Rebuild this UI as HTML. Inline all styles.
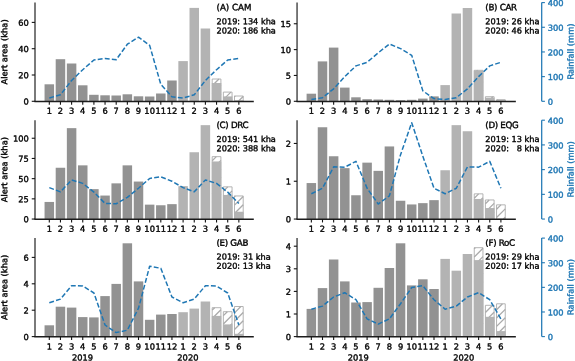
<!DOCTYPE html>
<html><head><meta charset="utf-8"><title>Alert area and rainfall</title>
<style>html,body{margin:0;padding:0;background:#fff}svg{display:block}text{stroke:#000}text[fill]{stroke:#1f77b4;stroke-width:0.4}</style>
</head><body>
<svg width="575" height="361" viewBox="0 0 575 361" font-family="'DejaVu Sans', 'Liberation Sans', sans-serif" font-size="8.3" text-rendering="geometricPrecision" stroke-width="0.36" stroke-linejoin="round">
<rect width="575" height="361" fill="#fff"/>
<g id="pA">
<rect x="44.55" y="84.30" width="9.5" height="17.00" fill="#929292"/>
<rect x="55.70" y="59.20" width="9.5" height="42.10" fill="#929292"/>
<rect x="66.85" y="63.50" width="9.5" height="37.80" fill="#929292"/>
<rect x="78.00" y="85.30" width="9.5" height="16.00" fill="#929292"/>
<rect x="89.15" y="94.80" width="9.5" height="6.50" fill="#929292"/>
<rect x="100.30" y="95.30" width="9.5" height="6.00" fill="#929292"/>
<rect x="111.45" y="95.50" width="9.5" height="5.80" fill="#929292"/>
<rect x="122.60" y="94.30" width="9.5" height="7.00" fill="#929292"/>
<rect x="133.75" y="96.30" width="9.5" height="5.00" fill="#929292"/>
<rect x="144.90" y="96.50" width="9.5" height="4.80" fill="#929292"/>
<rect x="156.05" y="93.50" width="9.5" height="7.80" fill="#929292"/>
<rect x="167.20" y="80.50" width="9.5" height="20.80" fill="#929292"/>
<rect x="178.35" y="61.10" width="9.5" height="40.20" fill="#b3b3b3"/>
<rect x="189.50" y="7.90" width="9.5" height="93.40" fill="#b3b3b3"/>
<rect x="200.65" y="28.50" width="9.5" height="72.80" fill="#b3b3b3"/>
<rect x="212.20" y="79.00" width="8.70" height="22.30" fill="#fff" stroke="#ababab" stroke-width="0.9"/>
<path d="M212.20,85.76 L218.96,79.00 M212.20,94.09 L220.90,85.39 M213.32,101.30 L220.90,93.72" stroke="#ababab" stroke-width="1.3" fill="none"/>
<rect x="211.80" y="83.00" width="9.5" height="18.30" fill="#b3b3b3"/>
<rect x="223.35" y="92.10" width="8.70" height="9.20" fill="#fff" stroke="#ababab" stroke-width="0.9"/>
<path d="M223.35,99.60 L230.85,92.10 M229.99,101.30 L232.05,99.24" stroke="#ababab" stroke-width="1.3" fill="none"/>
<rect x="222.95" y="96.40" width="9.5" height="4.90" fill="#b3b3b3"/>
<rect x="234.50" y="96.00" width="8.70" height="5.30" fill="#fff" stroke="#ababab" stroke-width="0.9"/>
<path d="M234.50,96.79 L235.29,96.00 M238.32,101.30 L243.20,96.42" stroke="#ababab" stroke-width="1.3" fill="none"/>
<rect x="234.10" y="100.30" width="9.5" height="1.00" fill="#b3b3b3"/>
<polyline points="49.30,98.00 60.45,94.80 71.60,80.50 82.75,69.70 93.90,60.00 105.05,58.50 116.20,59.70 127.35,44.20 138.50,37.20 149.65,45.40 160.80,84.30 171.95,96.80 183.10,98.00 194.25,94.80 205.40,80.50 216.55,69.70 227.70,60.00 238.85,58.50" fill="none" stroke="#1f77b4" stroke-width="1.5" stroke-dasharray="4.9 2.2" stroke-linejoin="round"/>
<path d="M35.0,2.6 V101.3" stroke="#2a2a2a" stroke-width="1.25" fill="none"/>
<path d="M34.4,101.45 H253.8" stroke="#1c1c1c" stroke-width="1.5" fill="none"/>
<path d="M31.75,101.30 H35.0" stroke="#151515" stroke-width="1.1"/>
<text transform="rotate(0.05 28.90 104.60)" x="28.90" y="104.60" text-anchor="end">0</text>
<path d="M31.75,75.00 H35.0" stroke="#151515" stroke-width="1.1"/>
<text transform="rotate(0.05 28.90 78.30)" x="28.90" y="78.30" text-anchor="end">20</text>
<path d="M31.75,48.70 H35.0" stroke="#151515" stroke-width="1.1"/>
<text transform="rotate(0.05 28.90 52.00)" x="28.90" y="52.00" text-anchor="end">40</text>
<path d="M31.75,22.40 H35.0" stroke="#151515" stroke-width="1.1"/>
<text transform="rotate(0.05 28.90 25.70)" x="28.90" y="25.70" text-anchor="end">60</text>
<path d="M49.30,101.3 V104.7" stroke="#151515" stroke-width="1.1"/>
<text transform="rotate(0.05 49.30 113.80)" x="49.30" y="113.80" text-anchor="middle">1</text>
<path d="M60.45,101.3 V104.7" stroke="#151515" stroke-width="1.1"/>
<text transform="rotate(0.05 60.45 113.80)" x="60.45" y="113.80" text-anchor="middle">2</text>
<path d="M71.60,101.3 V104.7" stroke="#151515" stroke-width="1.1"/>
<text transform="rotate(0.05 71.60 113.80)" x="71.60" y="113.80" text-anchor="middle">3</text>
<path d="M82.75,101.3 V104.7" stroke="#151515" stroke-width="1.1"/>
<text transform="rotate(0.05 82.75 113.80)" x="82.75" y="113.80" text-anchor="middle">4</text>
<path d="M93.90,101.3 V104.7" stroke="#151515" stroke-width="1.1"/>
<text transform="rotate(0.05 93.90 113.80)" x="93.90" y="113.80" text-anchor="middle">5</text>
<path d="M105.05,101.3 V104.7" stroke="#151515" stroke-width="1.1"/>
<text transform="rotate(0.05 105.05 113.80)" x="105.05" y="113.80" text-anchor="middle">6</text>
<path d="M116.20,101.3 V104.7" stroke="#151515" stroke-width="1.1"/>
<text transform="rotate(0.05 116.20 113.80)" x="116.20" y="113.80" text-anchor="middle">7</text>
<path d="M127.35,101.3 V104.7" stroke="#151515" stroke-width="1.1"/>
<text transform="rotate(0.05 127.35 113.80)" x="127.35" y="113.80" text-anchor="middle">8</text>
<path d="M138.50,101.3 V104.7" stroke="#151515" stroke-width="1.1"/>
<text transform="rotate(0.05 138.50 113.80)" x="138.50" y="113.80" text-anchor="middle">9</text>
<path d="M149.65,101.3 V104.7" stroke="#151515" stroke-width="1.1"/>
<text transform="rotate(0.05 149.65 113.80)" x="149.65" y="113.80" text-anchor="middle">10</text>
<path d="M160.80,101.3 V104.7" stroke="#151515" stroke-width="1.1"/>
<text transform="rotate(0.05 160.80 113.80)" x="160.80" y="113.80" text-anchor="middle">11</text>
<path d="M171.95,101.3 V104.7" stroke="#151515" stroke-width="1.1"/>
<text transform="rotate(0.05 171.95 113.80)" x="171.95" y="113.80" text-anchor="middle">12</text>
<path d="M183.10,101.3 V104.7" stroke="#151515" stroke-width="1.1"/>
<text transform="rotate(0.05 183.10 113.80)" x="183.10" y="113.80" text-anchor="middle">1</text>
<path d="M194.25,101.3 V104.7" stroke="#151515" stroke-width="1.1"/>
<text transform="rotate(0.05 194.25 113.80)" x="194.25" y="113.80" text-anchor="middle">2</text>
<path d="M205.40,101.3 V104.7" stroke="#151515" stroke-width="1.1"/>
<text transform="rotate(0.05 205.40 113.80)" x="205.40" y="113.80" text-anchor="middle">3</text>
<path d="M216.55,101.3 V104.7" stroke="#151515" stroke-width="1.1"/>
<text transform="rotate(0.05 216.55 113.80)" x="216.55" y="113.80" text-anchor="middle">4</text>
<path d="M227.70,101.3 V104.7" stroke="#151515" stroke-width="1.1"/>
<text transform="rotate(0.05 227.70 113.80)" x="227.70" y="113.80" text-anchor="middle">5</text>
<path d="M238.85,101.3 V104.7" stroke="#151515" stroke-width="1.1"/>
<text transform="rotate(0.05 238.85 113.80)" x="238.85" y="113.80" text-anchor="middle">6</text>
<text transform="rotate(0.05 216.50 10.20)" x="216.50" y="10.20" font-size="8.7">(A) CAM</text>
<text transform="rotate(0.05 216.50 24.20)" x="216.50" y="24.20" font-size="8.2">2019: 134 kha</text>
<text transform="rotate(0.05 216.50 33.40)" x="216.50" y="33.40" font-size="8.2">2020: 186 kha</text>
<text transform="translate(7.3,51.95) rotate(-90.05)" text-anchor="middle">Alert area (kha)</text>
</g>
<g id="pB">
<rect x="306.60" y="93.70" width="9.5" height="7.60" fill="#929292"/>
<rect x="317.75" y="61.40" width="9.5" height="39.90" fill="#929292"/>
<rect x="328.90" y="47.60" width="9.5" height="53.70" fill="#929292"/>
<rect x="340.05" y="87.60" width="9.5" height="13.70" fill="#929292"/>
<rect x="351.20" y="97.30" width="9.5" height="4.00" fill="#929292"/>
<rect x="362.35" y="99.20" width="9.5" height="2.10" fill="#929292"/>
<rect x="373.50" y="99.50" width="9.5" height="1.80" fill="#929292"/>
<rect x="384.65" y="99.80" width="9.5" height="1.50" fill="#929292"/>
<rect x="395.80" y="100.10" width="9.5" height="1.20" fill="#929292"/>
<rect x="406.95" y="99.80" width="9.5" height="1.50" fill="#929292"/>
<rect x="418.10" y="98.60" width="9.5" height="2.70" fill="#929292"/>
<rect x="429.25" y="96.40" width="9.5" height="4.90" fill="#929292"/>
<rect x="440.40" y="85.10" width="9.5" height="16.20" fill="#b3b3b3"/>
<rect x="451.55" y="13.50" width="9.5" height="87.80" fill="#b3b3b3"/>
<rect x="462.70" y="8.00" width="9.5" height="93.30" fill="#b3b3b3"/>
<rect x="474.25" y="70.30" width="8.70" height="31.00" fill="#fff" stroke="#ababab" stroke-width="0.9"/>
<path d="M474.25,73.69 L477.64,70.30 M474.25,82.03 L482.95,73.33 M474.25,90.36 L482.95,81.66 M474.25,98.69 L482.95,89.99 M479.98,101.30 L482.95,98.33" stroke="#ababab" stroke-width="1.3" fill="none"/>
<rect x="473.85" y="70.50" width="9.5" height="30.80" fill="#b3b3b3"/>
<rect x="485.40" y="96.70" width="8.70" height="4.60" fill="#fff" stroke="#ababab" stroke-width="0.9"/>
<path d="M488.31,101.30 L492.91,96.70" stroke="#ababab" stroke-width="1.3" fill="none"/>
<rect x="485.00" y="97.70" width="9.5" height="3.60" fill="#b3b3b3"/>
<rect x="496.55" y="99.70" width="8.70" height="1.60" fill="#fff" stroke="#ababab" stroke-width="0.9"/>
<path d="M496.64,101.30 L498.24,99.70 M504.98,101.30 L505.25,101.03" stroke="#ababab" stroke-width="1.3" fill="none"/>
<rect x="496.15" y="100.10" width="9.5" height="1.20" fill="#b3b3b3"/>
<polyline points="311.35,99.50 322.50,97.70 333.65,88.80 344.80,76.60 355.95,65.90 367.10,62.30 378.25,52.80 389.40,44.00 400.55,48.60 411.70,55.30 422.85,90.90 434.00,98.60 445.15,99.50 456.30,97.70 467.45,88.80 478.60,76.60 489.75,65.90 500.90,62.30" fill="none" stroke="#1f77b4" stroke-width="1.5" stroke-dasharray="4.9 2.2" stroke-linejoin="round"/>
<path d="M297.05,2.6 V101.3" stroke="#2a2a2a" stroke-width="1.25" fill="none"/>
<path d="M296.45,101.45 H515.85" stroke="#1c1c1c" stroke-width="1.5" fill="none"/>
<path d="M293.8,101.30 H297.05" stroke="#151515" stroke-width="1.1"/>
<text transform="rotate(0.05 290.95 104.60)" x="290.95" y="104.60" text-anchor="end">0</text>
<path d="M293.8,75.45 H297.05" stroke="#151515" stroke-width="1.1"/>
<text transform="rotate(0.05 290.95 78.75)" x="290.95" y="78.75" text-anchor="end">5</text>
<path d="M293.8,49.60 H297.05" stroke="#151515" stroke-width="1.1"/>
<text transform="rotate(0.05 290.95 52.90)" x="290.95" y="52.90" text-anchor="end">10</text>
<path d="M293.8,23.75 H297.05" stroke="#151515" stroke-width="1.1"/>
<text transform="rotate(0.05 290.95 27.05)" x="290.95" y="27.05" text-anchor="end">15</text>
<path d="M311.35,101.3 V104.7" stroke="#151515" stroke-width="1.1"/>
<text transform="rotate(0.05 311.35 113.80)" x="311.35" y="113.80" text-anchor="middle">1</text>
<path d="M322.50,101.3 V104.7" stroke="#151515" stroke-width="1.1"/>
<text transform="rotate(0.05 322.50 113.80)" x="322.50" y="113.80" text-anchor="middle">2</text>
<path d="M333.65,101.3 V104.7" stroke="#151515" stroke-width="1.1"/>
<text transform="rotate(0.05 333.65 113.80)" x="333.65" y="113.80" text-anchor="middle">3</text>
<path d="M344.80,101.3 V104.7" stroke="#151515" stroke-width="1.1"/>
<text transform="rotate(0.05 344.80 113.80)" x="344.80" y="113.80" text-anchor="middle">4</text>
<path d="M355.95,101.3 V104.7" stroke="#151515" stroke-width="1.1"/>
<text transform="rotate(0.05 355.95 113.80)" x="355.95" y="113.80" text-anchor="middle">5</text>
<path d="M367.10,101.3 V104.7" stroke="#151515" stroke-width="1.1"/>
<text transform="rotate(0.05 367.10 113.80)" x="367.10" y="113.80" text-anchor="middle">6</text>
<path d="M378.25,101.3 V104.7" stroke="#151515" stroke-width="1.1"/>
<text transform="rotate(0.05 378.25 113.80)" x="378.25" y="113.80" text-anchor="middle">7</text>
<path d="M389.40,101.3 V104.7" stroke="#151515" stroke-width="1.1"/>
<text transform="rotate(0.05 389.40 113.80)" x="389.40" y="113.80" text-anchor="middle">8</text>
<path d="M400.55,101.3 V104.7" stroke="#151515" stroke-width="1.1"/>
<text transform="rotate(0.05 400.55 113.80)" x="400.55" y="113.80" text-anchor="middle">9</text>
<path d="M411.70,101.3 V104.7" stroke="#151515" stroke-width="1.1"/>
<text transform="rotate(0.05 411.70 113.80)" x="411.70" y="113.80" text-anchor="middle">10</text>
<path d="M422.85,101.3 V104.7" stroke="#151515" stroke-width="1.1"/>
<text transform="rotate(0.05 422.85 113.80)" x="422.85" y="113.80" text-anchor="middle">11</text>
<path d="M434.00,101.3 V104.7" stroke="#151515" stroke-width="1.1"/>
<text transform="rotate(0.05 434.00 113.80)" x="434.00" y="113.80" text-anchor="middle">12</text>
<path d="M445.15,101.3 V104.7" stroke="#151515" stroke-width="1.1"/>
<text transform="rotate(0.05 445.15 113.80)" x="445.15" y="113.80" text-anchor="middle">1</text>
<path d="M456.30,101.3 V104.7" stroke="#151515" stroke-width="1.1"/>
<text transform="rotate(0.05 456.30 113.80)" x="456.30" y="113.80" text-anchor="middle">2</text>
<path d="M467.45,101.3 V104.7" stroke="#151515" stroke-width="1.1"/>
<text transform="rotate(0.05 467.45 113.80)" x="467.45" y="113.80" text-anchor="middle">3</text>
<path d="M478.60,101.3 V104.7" stroke="#151515" stroke-width="1.1"/>
<text transform="rotate(0.05 478.60 113.80)" x="478.60" y="113.80" text-anchor="middle">4</text>
<path d="M489.75,101.3 V104.7" stroke="#151515" stroke-width="1.1"/>
<text transform="rotate(0.05 489.75 113.80)" x="489.75" y="113.80" text-anchor="middle">5</text>
<path d="M500.90,101.3 V104.7" stroke="#151515" stroke-width="1.1"/>
<text transform="rotate(0.05 500.90 113.80)" x="500.90" y="113.80" text-anchor="middle">6</text>
<text transform="rotate(0.05 485.35 10.20)" x="485.35" y="10.20" font-size="8.7" letter-spacing="-0.3">(B) CAR</text>
<text transform="rotate(0.05 485.35 24.20)" x="485.35" y="24.20" font-size="8.2">2019: 26 kha</text>
<text transform="rotate(0.05 485.35 33.40)" x="485.35" y="33.40" font-size="8.2">2020: 46 kha</text>
<path d="M541.7,2.6 V101.3" stroke="#1f77b4" stroke-width="1.25" fill="none"/>
<path d="M541.7,101.30 H544.9000000000001" stroke="#1f77b4" stroke-width="1.1"/>
<text transform="rotate(0.05 547.70 104.80)" x="547.70" y="104.80" fill="#1f77b4">0</text>
<path d="M541.7,76.62 H544.9000000000001" stroke="#1f77b4" stroke-width="1.1"/>
<text transform="rotate(0.05 547.70 80.12)" x="547.70" y="80.12" fill="#1f77b4">100</text>
<path d="M541.7,51.95 H544.9000000000001" stroke="#1f77b4" stroke-width="1.1"/>
<text transform="rotate(0.05 547.70 55.45)" x="547.70" y="55.45" fill="#1f77b4">200</text>
<path d="M541.7,27.27 H544.9000000000001" stroke="#1f77b4" stroke-width="1.1"/>
<text transform="rotate(0.05 547.70 30.77)" x="547.70" y="30.77" fill="#1f77b4">300</text>
<path d="M541.7,2.60 H544.9000000000001" stroke="#1f77b4" stroke-width="1.1"/>
<text transform="rotate(0.05 547.70 6.10)" x="547.70" y="6.10" fill="#1f77b4">400</text>
<text transform="translate(573.6,51.55) rotate(-90.05)" text-anchor="middle" fill="#1f77b4">Rainfall (mm)</text>
</g>
<g id="pC">
<rect x="44.55" y="201.95" width="9.5" height="17.10" fill="#929292"/>
<rect x="55.70" y="167.75" width="9.5" height="51.30" fill="#929292"/>
<rect x="66.85" y="128.15" width="9.5" height="90.90" fill="#929292"/>
<rect x="78.00" y="165.35" width="9.5" height="53.70" fill="#929292"/>
<rect x="89.15" y="189.15" width="9.5" height="29.90" fill="#929292"/>
<rect x="100.30" y="195.55" width="9.5" height="23.50" fill="#929292"/>
<rect x="111.45" y="183.35" width="9.5" height="35.70" fill="#929292"/>
<rect x="122.60" y="165.35" width="9.5" height="53.70" fill="#929292"/>
<rect x="133.75" y="181.55" width="9.5" height="37.50" fill="#929292"/>
<rect x="144.90" y="204.65" width="9.5" height="14.40" fill="#929292"/>
<rect x="156.05" y="205.25" width="9.5" height="13.80" fill="#929292"/>
<rect x="167.20" y="204.15" width="9.5" height="14.90" fill="#929292"/>
<rect x="178.35" y="186.15" width="9.5" height="32.90" fill="#b3b3b3"/>
<rect x="189.50" y="152.25" width="9.5" height="66.80" fill="#b3b3b3"/>
<rect x="200.65" y="125.15" width="9.5" height="93.90" fill="#b3b3b3"/>
<rect x="212.20" y="156.65" width="8.70" height="62.40" fill="#fff" stroke="#ababab" stroke-width="0.9"/>
<path d="M212.20,160.75 L216.30,156.65 M212.20,169.09 L220.90,160.39 M212.20,177.42 L220.90,168.72 M212.20,185.75 L220.90,177.05 M212.20,194.08 L220.90,185.38 M212.20,202.42 L220.90,193.72 M212.20,210.75 L220.90,202.05 M212.23,219.05 L220.90,210.38 M220.57,219.05 L220.90,218.72" stroke="#ababab" stroke-width="1.3" fill="none"/>
<rect x="211.80" y="161.45" width="9.5" height="57.60" fill="#b3b3b3"/>
<rect x="223.35" y="186.85" width="8.70" height="32.20" fill="#fff" stroke="#ababab" stroke-width="0.9"/>
<path d="M223.35,191.27 L227.77,186.85 M223.35,199.60 L232.05,190.90 M223.35,207.93 L232.05,199.23 M223.35,216.27 L232.05,207.57 M228.90,219.05 L232.05,215.90" stroke="#ababab" stroke-width="1.3" fill="none"/>
<rect x="222.95" y="194.95" width="9.5" height="24.10" fill="#b3b3b3"/>
<rect x="234.50" y="195.95" width="8.70" height="23.10" fill="#fff" stroke="#ababab" stroke-width="0.9"/>
<path d="M234.50,196.78 L235.33,195.95 M234.50,205.12 L243.20,196.42 M234.50,213.45 L243.20,204.75 M237.23,219.05 L243.20,213.08" stroke="#ababab" stroke-width="1.3" fill="none"/>
<rect x="234.10" y="211.75" width="9.5" height="7.30" fill="#b3b3b3"/>
<polyline points="49.30,187.65 60.45,191.85 71.60,179.95 82.75,183.35 93.90,192.15 105.05,203.45 116.20,203.75 127.35,197.35 138.50,188.25 149.65,178.45 160.80,176.85 171.95,181.25 183.10,187.65 194.25,191.85 205.40,179.95 216.55,183.35 227.70,192.15 238.85,203.45" fill="none" stroke="#1f77b4" stroke-width="1.5" stroke-dasharray="4.9 2.2" stroke-linejoin="round"/>
<path d="M35.0,120.2 V219.05" stroke="#2a2a2a" stroke-width="1.25" fill="none"/>
<path d="M34.4,219.20000000000002 H253.8" stroke="#1c1c1c" stroke-width="1.5" fill="none"/>
<path d="M31.75,219.05 H35.0" stroke="#151515" stroke-width="1.1"/>
<text transform="rotate(0.05 28.90 222.35)" x="28.90" y="222.35" text-anchor="end">0</text>
<path d="M31.75,198.85 H35.0" stroke="#151515" stroke-width="1.1"/>
<text transform="rotate(0.05 28.90 202.15)" x="28.90" y="202.15" text-anchor="end">25</text>
<path d="M31.75,178.65 H35.0" stroke="#151515" stroke-width="1.1"/>
<text transform="rotate(0.05 28.90 181.95)" x="28.90" y="181.95" text-anchor="end">50</text>
<path d="M31.75,158.45 H35.0" stroke="#151515" stroke-width="1.1"/>
<text transform="rotate(0.05 28.90 161.75)" x="28.90" y="161.75" text-anchor="end">75</text>
<path d="M31.75,138.25 H35.0" stroke="#151515" stroke-width="1.1"/>
<text transform="rotate(0.05 28.90 141.55)" x="28.90" y="141.55" text-anchor="end">100</text>
<path d="M49.30,219.05 V222.45000000000002" stroke="#151515" stroke-width="1.1"/>
<text transform="rotate(0.05 49.30 231.65)" x="49.30" y="231.65" text-anchor="middle">1</text>
<path d="M60.45,219.05 V222.45000000000002" stroke="#151515" stroke-width="1.1"/>
<text transform="rotate(0.05 60.45 231.65)" x="60.45" y="231.65" text-anchor="middle">2</text>
<path d="M71.60,219.05 V222.45000000000002" stroke="#151515" stroke-width="1.1"/>
<text transform="rotate(0.05 71.60 231.65)" x="71.60" y="231.65" text-anchor="middle">3</text>
<path d="M82.75,219.05 V222.45000000000002" stroke="#151515" stroke-width="1.1"/>
<text transform="rotate(0.05 82.75 231.65)" x="82.75" y="231.65" text-anchor="middle">4</text>
<path d="M93.90,219.05 V222.45000000000002" stroke="#151515" stroke-width="1.1"/>
<text transform="rotate(0.05 93.90 231.65)" x="93.90" y="231.65" text-anchor="middle">5</text>
<path d="M105.05,219.05 V222.45000000000002" stroke="#151515" stroke-width="1.1"/>
<text transform="rotate(0.05 105.05 231.65)" x="105.05" y="231.65" text-anchor="middle">6</text>
<path d="M116.20,219.05 V222.45000000000002" stroke="#151515" stroke-width="1.1"/>
<text transform="rotate(0.05 116.20 231.65)" x="116.20" y="231.65" text-anchor="middle">7</text>
<path d="M127.35,219.05 V222.45000000000002" stroke="#151515" stroke-width="1.1"/>
<text transform="rotate(0.05 127.35 231.65)" x="127.35" y="231.65" text-anchor="middle">8</text>
<path d="M138.50,219.05 V222.45000000000002" stroke="#151515" stroke-width="1.1"/>
<text transform="rotate(0.05 138.50 231.65)" x="138.50" y="231.65" text-anchor="middle">9</text>
<path d="M149.65,219.05 V222.45000000000002" stroke="#151515" stroke-width="1.1"/>
<text transform="rotate(0.05 149.65 231.65)" x="149.65" y="231.65" text-anchor="middle">10</text>
<path d="M160.80,219.05 V222.45000000000002" stroke="#151515" stroke-width="1.1"/>
<text transform="rotate(0.05 160.80 231.65)" x="160.80" y="231.65" text-anchor="middle">11</text>
<path d="M171.95,219.05 V222.45000000000002" stroke="#151515" stroke-width="1.1"/>
<text transform="rotate(0.05 171.95 231.65)" x="171.95" y="231.65" text-anchor="middle">12</text>
<path d="M183.10,219.05 V222.45000000000002" stroke="#151515" stroke-width="1.1"/>
<text transform="rotate(0.05 183.10 231.65)" x="183.10" y="231.65" text-anchor="middle">1</text>
<path d="M194.25,219.05 V222.45000000000002" stroke="#151515" stroke-width="1.1"/>
<text transform="rotate(0.05 194.25 231.65)" x="194.25" y="231.65" text-anchor="middle">2</text>
<path d="M205.40,219.05 V222.45000000000002" stroke="#151515" stroke-width="1.1"/>
<text transform="rotate(0.05 205.40 231.65)" x="205.40" y="231.65" text-anchor="middle">3</text>
<path d="M216.55,219.05 V222.45000000000002" stroke="#151515" stroke-width="1.1"/>
<text transform="rotate(0.05 216.55 231.65)" x="216.55" y="231.65" text-anchor="middle">4</text>
<path d="M227.70,219.05 V222.45000000000002" stroke="#151515" stroke-width="1.1"/>
<text transform="rotate(0.05 227.70 231.65)" x="227.70" y="231.65" text-anchor="middle">5</text>
<path d="M238.85,219.05 V222.45000000000002" stroke="#151515" stroke-width="1.1"/>
<text transform="rotate(0.05 238.85 231.65)" x="238.85" y="231.65" text-anchor="middle">6</text>
<text transform="rotate(0.05 216.50 128.10)" x="216.50" y="128.10" font-size="8.7" letter-spacing="-0.3">(C) DRC</text>
<text transform="rotate(0.05 216.50 142.00)" x="216.50" y="142.00" font-size="8.2">2019: 541 kha</text>
<text transform="rotate(0.05 216.50 151.20)" x="216.50" y="151.20" font-size="8.2">2020: 388 kha</text>
<text transform="translate(7.3,169.62) rotate(-90.05)" text-anchor="middle">Alert area (kha)</text>
</g>
<g id="pD">
<rect x="306.60" y="183.05" width="9.5" height="36.00" fill="#929292"/>
<rect x="317.75" y="127.25" width="9.5" height="91.80" fill="#929292"/>
<rect x="328.90" y="156.25" width="9.5" height="62.80" fill="#929292"/>
<rect x="340.05" y="168.15" width="9.5" height="50.90" fill="#929292"/>
<rect x="351.20" y="195.25" width="9.5" height="23.80" fill="#929292"/>
<rect x="362.35" y="162.65" width="9.5" height="56.40" fill="#929292"/>
<rect x="373.50" y="170.85" width="9.5" height="48.20" fill="#929292"/>
<rect x="384.65" y="146.45" width="9.5" height="72.60" fill="#929292"/>
<rect x="395.80" y="200.75" width="9.5" height="18.30" fill="#929292"/>
<rect x="406.95" y="204.45" width="9.5" height="14.60" fill="#929292"/>
<rect x="418.10" y="203.15" width="9.5" height="15.90" fill="#929292"/>
<rect x="429.25" y="200.15" width="9.5" height="18.90" fill="#929292"/>
<rect x="440.40" y="170.25" width="9.5" height="48.80" fill="#b3b3b3"/>
<rect x="451.55" y="125.15" width="9.5" height="93.90" fill="#b3b3b3"/>
<rect x="462.70" y="131.25" width="9.5" height="87.80" fill="#b3b3b3"/>
<rect x="474.25" y="193.85" width="8.70" height="25.20" fill="#fff" stroke="#ababab" stroke-width="0.9"/>
<path d="M474.25,198.19 L478.59,193.85 M474.25,206.52 L482.95,197.82 M474.25,214.86 L482.95,206.16 M478.39,219.05 L482.95,214.49" stroke="#ababab" stroke-width="1.3" fill="none"/>
<rect x="473.85" y="198.95" width="9.5" height="20.10" fill="#b3b3b3"/>
<rect x="485.40" y="199.95" width="8.70" height="19.10" fill="#fff" stroke="#ababab" stroke-width="0.9"/>
<path d="M485.40,203.71 L489.16,199.95 M485.40,212.04 L494.10,203.34 M486.72,219.05 L494.10,211.67" stroke="#ababab" stroke-width="1.3" fill="none"/>
<rect x="485.00" y="208.05" width="9.5" height="11.00" fill="#b3b3b3"/>
<rect x="496.55" y="204.85" width="8.70" height="14.20" fill="#fff" stroke="#ababab" stroke-width="0.9"/>
<path d="M496.55,209.22 L500.92,204.85 M496.55,217.56 L505.25,208.85 M503.39,219.05 L505.25,217.19" stroke="#ababab" stroke-width="1.3" fill="none"/>
<polyline points="311.35,193.75 322.50,188.25 333.65,166.85 344.80,167.15 355.95,161.35 367.10,188.25 378.25,204.05 389.40,195.85 400.55,154.65 411.70,122.65 422.85,156.25 434.00,188.25 445.15,193.75 456.30,188.25 467.45,166.85 478.60,167.15 489.75,161.35 500.90,188.25" fill="none" stroke="#1f77b4" stroke-width="1.5" stroke-dasharray="4.9 2.2" stroke-linejoin="round"/>
<path d="M297.05,120.2 V219.05" stroke="#2a2a2a" stroke-width="1.25" fill="none"/>
<path d="M296.45,219.20000000000002 H515.85" stroke="#1c1c1c" stroke-width="1.5" fill="none"/>
<path d="M293.8,219.05 H297.05" stroke="#151515" stroke-width="1.1"/>
<text transform="rotate(0.05 290.95 222.35)" x="290.95" y="222.35" text-anchor="end">0</text>
<path d="M293.8,181.25 H297.05" stroke="#151515" stroke-width="1.1"/>
<text transform="rotate(0.05 290.95 184.55)" x="290.95" y="184.55" text-anchor="end">1</text>
<path d="M293.8,143.45 H297.05" stroke="#151515" stroke-width="1.1"/>
<text transform="rotate(0.05 290.95 146.75)" x="290.95" y="146.75" text-anchor="end">2</text>
<path d="M311.35,219.05 V222.45000000000002" stroke="#151515" stroke-width="1.1"/>
<text transform="rotate(0.05 311.35 231.65)" x="311.35" y="231.65" text-anchor="middle">1</text>
<path d="M322.50,219.05 V222.45000000000002" stroke="#151515" stroke-width="1.1"/>
<text transform="rotate(0.05 322.50 231.65)" x="322.50" y="231.65" text-anchor="middle">2</text>
<path d="M333.65,219.05 V222.45000000000002" stroke="#151515" stroke-width="1.1"/>
<text transform="rotate(0.05 333.65 231.65)" x="333.65" y="231.65" text-anchor="middle">3</text>
<path d="M344.80,219.05 V222.45000000000002" stroke="#151515" stroke-width="1.1"/>
<text transform="rotate(0.05 344.80 231.65)" x="344.80" y="231.65" text-anchor="middle">4</text>
<path d="M355.95,219.05 V222.45000000000002" stroke="#151515" stroke-width="1.1"/>
<text transform="rotate(0.05 355.95 231.65)" x="355.95" y="231.65" text-anchor="middle">5</text>
<path d="M367.10,219.05 V222.45000000000002" stroke="#151515" stroke-width="1.1"/>
<text transform="rotate(0.05 367.10 231.65)" x="367.10" y="231.65" text-anchor="middle">6</text>
<path d="M378.25,219.05 V222.45000000000002" stroke="#151515" stroke-width="1.1"/>
<text transform="rotate(0.05 378.25 231.65)" x="378.25" y="231.65" text-anchor="middle">7</text>
<path d="M389.40,219.05 V222.45000000000002" stroke="#151515" stroke-width="1.1"/>
<text transform="rotate(0.05 389.40 231.65)" x="389.40" y="231.65" text-anchor="middle">8</text>
<path d="M400.55,219.05 V222.45000000000002" stroke="#151515" stroke-width="1.1"/>
<text transform="rotate(0.05 400.55 231.65)" x="400.55" y="231.65" text-anchor="middle">9</text>
<path d="M411.70,219.05 V222.45000000000002" stroke="#151515" stroke-width="1.1"/>
<text transform="rotate(0.05 411.70 231.65)" x="411.70" y="231.65" text-anchor="middle">10</text>
<path d="M422.85,219.05 V222.45000000000002" stroke="#151515" stroke-width="1.1"/>
<text transform="rotate(0.05 422.85 231.65)" x="422.85" y="231.65" text-anchor="middle">11</text>
<path d="M434.00,219.05 V222.45000000000002" stroke="#151515" stroke-width="1.1"/>
<text transform="rotate(0.05 434.00 231.65)" x="434.00" y="231.65" text-anchor="middle">12</text>
<path d="M445.15,219.05 V222.45000000000002" stroke="#151515" stroke-width="1.1"/>
<text transform="rotate(0.05 445.15 231.65)" x="445.15" y="231.65" text-anchor="middle">1</text>
<path d="M456.30,219.05 V222.45000000000002" stroke="#151515" stroke-width="1.1"/>
<text transform="rotate(0.05 456.30 231.65)" x="456.30" y="231.65" text-anchor="middle">2</text>
<path d="M467.45,219.05 V222.45000000000002" stroke="#151515" stroke-width="1.1"/>
<text transform="rotate(0.05 467.45 231.65)" x="467.45" y="231.65" text-anchor="middle">3</text>
<path d="M478.60,219.05 V222.45000000000002" stroke="#151515" stroke-width="1.1"/>
<text transform="rotate(0.05 478.60 231.65)" x="478.60" y="231.65" text-anchor="middle">4</text>
<path d="M489.75,219.05 V222.45000000000002" stroke="#151515" stroke-width="1.1"/>
<text transform="rotate(0.05 489.75 231.65)" x="489.75" y="231.65" text-anchor="middle">5</text>
<path d="M500.90,219.05 V222.45000000000002" stroke="#151515" stroke-width="1.1"/>
<text transform="rotate(0.05 500.90 231.65)" x="500.90" y="231.65" text-anchor="middle">6</text>
<text transform="rotate(0.05 485.35 128.10)" x="485.35" y="128.10" font-size="8.7" letter-spacing="-0.3">(D) EQG</text>
<text transform="rotate(0.05 485.35 142.00)" x="485.35" y="142.00" font-size="8.2">2019: 13 kha</text>
<text transform="rotate(0.05 485.35 151.20)" x="485.35" y="151.20" font-size="8.2">2020:   8 kha</text>
<path d="M541.7,120.2 V219.05" stroke="#1f77b4" stroke-width="1.25" fill="none"/>
<path d="M541.7,219.05 H544.9000000000001" stroke="#1f77b4" stroke-width="1.1"/>
<text transform="rotate(0.05 547.70 222.55)" x="547.70" y="222.55" fill="#1f77b4">0</text>
<path d="M541.7,194.34 H544.9000000000001" stroke="#1f77b4" stroke-width="1.1"/>
<text transform="rotate(0.05 547.70 197.84)" x="547.70" y="197.84" fill="#1f77b4">100</text>
<path d="M541.7,169.62 H544.9000000000001" stroke="#1f77b4" stroke-width="1.1"/>
<text transform="rotate(0.05 547.70 173.12)" x="547.70" y="173.12" fill="#1f77b4">200</text>
<path d="M541.7,144.91 H544.9000000000001" stroke="#1f77b4" stroke-width="1.1"/>
<text transform="rotate(0.05 547.70 148.41)" x="547.70" y="148.41" fill="#1f77b4">300</text>
<path d="M541.7,120.20 H544.9000000000001" stroke="#1f77b4" stroke-width="1.1"/>
<text transform="rotate(0.05 547.70 123.70)" x="547.70" y="123.70" fill="#1f77b4">400</text>
<text transform="translate(573.6,169.22) rotate(-90.05)" text-anchor="middle" fill="#1f77b4">Rainfall (mm)</text>
</g>
<g id="pE">
<rect x="44.55" y="325.30" width="9.5" height="11.30" fill="#929292"/>
<rect x="55.70" y="306.70" width="9.5" height="29.90" fill="#929292"/>
<rect x="66.85" y="307.60" width="9.5" height="29.00" fill="#929292"/>
<rect x="78.00" y="317.10" width="9.5" height="19.50" fill="#929292"/>
<rect x="89.15" y="317.40" width="9.5" height="19.20" fill="#929292"/>
<rect x="100.30" y="296.10" width="9.5" height="40.50" fill="#929292"/>
<rect x="111.45" y="283.90" width="9.5" height="52.70" fill="#929292"/>
<rect x="122.60" y="243.30" width="9.5" height="93.30" fill="#929292"/>
<rect x="133.75" y="281.40" width="9.5" height="55.20" fill="#929292"/>
<rect x="144.90" y="319.80" width="9.5" height="16.80" fill="#929292"/>
<rect x="156.05" y="314.60" width="9.5" height="22.00" fill="#929292"/>
<rect x="167.20" y="314.00" width="9.5" height="22.60" fill="#929292"/>
<rect x="178.35" y="312.20" width="9.5" height="24.40" fill="#b3b3b3"/>
<rect x="189.50" y="308.60" width="9.5" height="28.00" fill="#b3b3b3"/>
<rect x="200.65" y="301.50" width="9.5" height="35.10" fill="#b3b3b3"/>
<rect x="212.20" y="307.70" width="8.70" height="28.90" fill="#fff" stroke="#ababab" stroke-width="0.9"/>
<path d="M212.20,310.15 L214.65,307.70 M212.20,318.48 L220.90,309.78 M212.20,326.81 L220.90,318.11 M212.20,335.14 L220.90,326.45 M219.08,336.60 L220.90,334.78" stroke="#ababab" stroke-width="1.3" fill="none"/>
<rect x="211.80" y="315.90" width="9.5" height="20.70" fill="#b3b3b3"/>
<rect x="223.35" y="311.70" width="8.70" height="24.90" fill="#fff" stroke="#ababab" stroke-width="0.9"/>
<path d="M223.35,315.66 L227.31,311.70 M223.35,324.00 L232.05,315.30 M223.35,332.33 L232.05,323.63 M227.41,336.60 L232.05,331.96" stroke="#ababab" stroke-width="1.3" fill="none"/>
<rect x="222.95" y="324.40" width="9.5" height="12.20" fill="#b3b3b3"/>
<rect x="234.50" y="306.50" width="8.70" height="30.10" fill="#fff" stroke="#ababab" stroke-width="0.9"/>
<path d="M234.50,312.85 L240.85,306.50 M234.50,321.18 L243.20,312.48 M234.50,329.51 L243.20,320.81 M235.74,336.60 L243.20,329.14" stroke="#ababab" stroke-width="1.3" fill="none"/>
<rect x="234.10" y="333.80" width="9.5" height="2.80" fill="#b3b3b3"/>
<polyline points="49.30,302.80 60.45,299.10 71.60,285.70 82.75,286.00 93.90,293.00 105.05,325.00 116.20,332.60 127.35,330.20 138.50,308.20 149.65,266.20 160.80,268.30 171.95,297.00 183.10,302.80 194.25,299.10 205.40,285.70 216.55,286.00 227.70,293.00 238.85,325.00" fill="none" stroke="#1f77b4" stroke-width="1.5" stroke-dasharray="4.9 2.2" stroke-linejoin="round"/>
<path d="M35.0,238.1 V336.6" stroke="#2a2a2a" stroke-width="1.25" fill="none"/>
<path d="M34.4,336.75 H253.8" stroke="#1c1c1c" stroke-width="1.5" fill="none"/>
<path d="M31.75,336.60 H35.0" stroke="#151515" stroke-width="1.1"/>
<text transform="rotate(0.05 28.90 339.90)" x="28.90" y="339.90" text-anchor="end">0</text>
<path d="M31.75,310.20 H35.0" stroke="#151515" stroke-width="1.1"/>
<text transform="rotate(0.05 28.90 313.50)" x="28.90" y="313.50" text-anchor="end">2</text>
<path d="M31.75,283.80 H35.0" stroke="#151515" stroke-width="1.1"/>
<text transform="rotate(0.05 28.90 287.10)" x="28.90" y="287.10" text-anchor="end">4</text>
<path d="M31.75,257.40 H35.0" stroke="#151515" stroke-width="1.1"/>
<text transform="rotate(0.05 28.90 260.70)" x="28.90" y="260.70" text-anchor="end">6</text>
<path d="M49.30,336.6 V340.0" stroke="#151515" stroke-width="1.1"/>
<text transform="rotate(0.05 49.30 349.45)" x="49.30" y="349.45" text-anchor="middle">1</text>
<path d="M60.45,336.6 V340.0" stroke="#151515" stroke-width="1.1"/>
<text transform="rotate(0.05 60.45 349.45)" x="60.45" y="349.45" text-anchor="middle">2</text>
<path d="M71.60,336.6 V340.0" stroke="#151515" stroke-width="1.1"/>
<text transform="rotate(0.05 71.60 349.45)" x="71.60" y="349.45" text-anchor="middle">3</text>
<path d="M82.75,336.6 V340.0" stroke="#151515" stroke-width="1.1"/>
<text transform="rotate(0.05 82.75 349.45)" x="82.75" y="349.45" text-anchor="middle">4</text>
<path d="M93.90,336.6 V340.0" stroke="#151515" stroke-width="1.1"/>
<text transform="rotate(0.05 93.90 349.45)" x="93.90" y="349.45" text-anchor="middle">5</text>
<path d="M105.05,336.6 V340.0" stroke="#151515" stroke-width="1.1"/>
<text transform="rotate(0.05 105.05 349.45)" x="105.05" y="349.45" text-anchor="middle">6</text>
<path d="M116.20,336.6 V340.0" stroke="#151515" stroke-width="1.1"/>
<text transform="rotate(0.05 116.20 349.45)" x="116.20" y="349.45" text-anchor="middle">7</text>
<path d="M127.35,336.6 V340.0" stroke="#151515" stroke-width="1.1"/>
<text transform="rotate(0.05 127.35 349.45)" x="127.35" y="349.45" text-anchor="middle">8</text>
<path d="M138.50,336.6 V340.0" stroke="#151515" stroke-width="1.1"/>
<text transform="rotate(0.05 138.50 349.45)" x="138.50" y="349.45" text-anchor="middle">9</text>
<path d="M149.65,336.6 V340.0" stroke="#151515" stroke-width="1.1"/>
<text transform="rotate(0.05 149.65 349.45)" x="149.65" y="349.45" text-anchor="middle">10</text>
<path d="M160.80,336.6 V340.0" stroke="#151515" stroke-width="1.1"/>
<text transform="rotate(0.05 160.80 349.45)" x="160.80" y="349.45" text-anchor="middle">11</text>
<path d="M171.95,336.6 V340.0" stroke="#151515" stroke-width="1.1"/>
<text transform="rotate(0.05 171.95 349.45)" x="171.95" y="349.45" text-anchor="middle">12</text>
<path d="M183.10,336.6 V340.0" stroke="#151515" stroke-width="1.1"/>
<text transform="rotate(0.05 183.10 349.45)" x="183.10" y="349.45" text-anchor="middle">1</text>
<path d="M194.25,336.6 V340.0" stroke="#151515" stroke-width="1.1"/>
<text transform="rotate(0.05 194.25 349.45)" x="194.25" y="349.45" text-anchor="middle">2</text>
<path d="M205.40,336.6 V340.0" stroke="#151515" stroke-width="1.1"/>
<text transform="rotate(0.05 205.40 349.45)" x="205.40" y="349.45" text-anchor="middle">3</text>
<path d="M216.55,336.6 V340.0" stroke="#151515" stroke-width="1.1"/>
<text transform="rotate(0.05 216.55 349.45)" x="216.55" y="349.45" text-anchor="middle">4</text>
<path d="M227.70,336.6 V340.0" stroke="#151515" stroke-width="1.1"/>
<text transform="rotate(0.05 227.70 349.45)" x="227.70" y="349.45" text-anchor="middle">5</text>
<path d="M238.85,336.6 V340.0" stroke="#151515" stroke-width="1.1"/>
<text transform="rotate(0.05 238.85 349.45)" x="238.85" y="349.45" text-anchor="middle">6</text>
<text transform="rotate(0.05 216.50 245.70)" x="216.50" y="245.70" font-size="8.7" letter-spacing="-0.3">(E) GAB</text>
<text transform="rotate(0.05 216.50 259.60)" x="216.50" y="259.60" font-size="8.2">2019: 31 kha</text>
<text transform="rotate(0.05 216.50 268.80)" x="216.50" y="268.80" font-size="8.2">2020: 13 kha</text>
<text transform="translate(7.3,287.35) rotate(-90.05)" text-anchor="middle">Alert area (kha)</text>
<text transform="rotate(0.05 82.50 360.50)" x="82.50" y="360.50" text-anchor="middle">2019</text>
<text transform="rotate(0.05 187.90 360.50)" x="187.90" y="360.50" text-anchor="middle">2020</text>
</g>
<g id="pF">
<rect x="306.60" y="308.90" width="9.5" height="27.70" fill="#929292"/>
<rect x="317.75" y="288.10" width="9.5" height="48.50" fill="#929292"/>
<rect x="328.90" y="259.50" width="9.5" height="77.10" fill="#929292"/>
<rect x="340.05" y="281.40" width="9.5" height="55.20" fill="#929292"/>
<rect x="351.20" y="302.50" width="9.5" height="34.10" fill="#929292"/>
<rect x="362.35" y="302.10" width="9.5" height="34.50" fill="#929292"/>
<rect x="373.50" y="287.80" width="9.5" height="48.80" fill="#929292"/>
<rect x="384.65" y="268.00" width="9.5" height="68.60" fill="#929292"/>
<rect x="395.80" y="243.30" width="9.5" height="93.30" fill="#929292"/>
<rect x="406.95" y="285.40" width="9.5" height="51.20" fill="#929292"/>
<rect x="418.10" y="279.30" width="9.5" height="57.30" fill="#929292"/>
<rect x="429.25" y="289.00" width="9.5" height="47.60" fill="#929292"/>
<rect x="440.40" y="258.90" width="9.5" height="77.70" fill="#b3b3b3"/>
<rect x="451.55" y="270.70" width="9.5" height="65.90" fill="#b3b3b3"/>
<rect x="462.70" y="254.00" width="9.5" height="82.60" fill="#b3b3b3"/>
<rect x="474.25" y="247.70" width="8.70" height="88.90" fill="#fff" stroke="#ababab" stroke-width="0.9"/>
<path d="M474.25,248.69 L475.24,247.70 M474.25,257.02 L482.95,248.32 M474.25,265.35 L482.95,256.65 M474.25,273.69 L482.95,264.99 M474.25,282.02 L482.95,273.32 M474.25,290.35 L482.95,281.65 M474.25,298.69 L482.95,289.99 M474.25,307.02 L482.95,298.32 M474.25,315.35 L482.95,306.65 M474.25,323.68 L482.95,314.98 M474.25,332.02 L482.95,323.32 M478.00,336.60 L482.95,331.65" stroke="#ababab" stroke-width="1.3" fill="none"/>
<rect x="473.85" y="260.10" width="9.5" height="76.50" fill="#b3b3b3"/>
<rect x="485.40" y="305.30" width="8.70" height="31.30" fill="#fff" stroke="#ababab" stroke-width="0.9"/>
<path d="M485.40,312.53 L492.63,305.30 M485.40,320.87 L494.10,312.17 M485.40,329.20 L494.10,320.50 M486.33,336.60 L494.10,328.83" stroke="#ababab" stroke-width="1.3" fill="none"/>
<rect x="485.00" y="316.80" width="9.5" height="19.80" fill="#b3b3b3"/>
<rect x="496.55" y="303.80" width="8.70" height="32.80" fill="#fff" stroke="#ababab" stroke-width="0.9"/>
<path d="M496.55,309.72 L502.47,303.80 M496.55,318.05 L505.25,309.35 M496.55,326.38 L505.25,317.68 M496.55,334.72 L505.25,326.02 M503.00,336.60 L505.25,334.35" stroke="#ababab" stroke-width="1.3" fill="none"/>
<rect x="496.15" y="331.10" width="9.5" height="5.50" fill="#b3b3b3"/>
<polyline points="311.35,309.20 322.50,306.10 333.65,297.00 344.80,292.70 355.95,299.70 367.10,318.90 378.25,324.10 389.40,318.90 400.55,303.70 411.70,287.50 422.85,285.70 434.00,299.70 445.15,309.20 456.30,306.10 467.45,297.00 478.60,292.70 489.75,299.70 500.90,318.90" fill="none" stroke="#1f77b4" stroke-width="1.5" stroke-dasharray="4.9 2.2" stroke-linejoin="round"/>
<path d="M297.05,238.1 V336.6" stroke="#2a2a2a" stroke-width="1.25" fill="none"/>
<path d="M296.45,336.75 H515.85" stroke="#1c1c1c" stroke-width="1.5" fill="none"/>
<path d="M293.8,336.60 H297.05" stroke="#151515" stroke-width="1.1"/>
<text transform="rotate(0.05 290.95 339.90)" x="290.95" y="339.90" text-anchor="end">0</text>
<path d="M293.8,314.00 H297.05" stroke="#151515" stroke-width="1.1"/>
<text transform="rotate(0.05 290.95 317.30)" x="290.95" y="317.30" text-anchor="end">1</text>
<path d="M293.8,291.40 H297.05" stroke="#151515" stroke-width="1.1"/>
<text transform="rotate(0.05 290.95 294.70)" x="290.95" y="294.70" text-anchor="end">2</text>
<path d="M293.8,268.80 H297.05" stroke="#151515" stroke-width="1.1"/>
<text transform="rotate(0.05 290.95 272.10)" x="290.95" y="272.10" text-anchor="end">3</text>
<path d="M293.8,246.20 H297.05" stroke="#151515" stroke-width="1.1"/>
<text transform="rotate(0.05 290.95 249.50)" x="290.95" y="249.50" text-anchor="end">4</text>
<path d="M311.35,336.6 V340.0" stroke="#151515" stroke-width="1.1"/>
<text transform="rotate(0.05 311.35 349.45)" x="311.35" y="349.45" text-anchor="middle">1</text>
<path d="M322.50,336.6 V340.0" stroke="#151515" stroke-width="1.1"/>
<text transform="rotate(0.05 322.50 349.45)" x="322.50" y="349.45" text-anchor="middle">2</text>
<path d="M333.65,336.6 V340.0" stroke="#151515" stroke-width="1.1"/>
<text transform="rotate(0.05 333.65 349.45)" x="333.65" y="349.45" text-anchor="middle">3</text>
<path d="M344.80,336.6 V340.0" stroke="#151515" stroke-width="1.1"/>
<text transform="rotate(0.05 344.80 349.45)" x="344.80" y="349.45" text-anchor="middle">4</text>
<path d="M355.95,336.6 V340.0" stroke="#151515" stroke-width="1.1"/>
<text transform="rotate(0.05 355.95 349.45)" x="355.95" y="349.45" text-anchor="middle">5</text>
<path d="M367.10,336.6 V340.0" stroke="#151515" stroke-width="1.1"/>
<text transform="rotate(0.05 367.10 349.45)" x="367.10" y="349.45" text-anchor="middle">6</text>
<path d="M378.25,336.6 V340.0" stroke="#151515" stroke-width="1.1"/>
<text transform="rotate(0.05 378.25 349.45)" x="378.25" y="349.45" text-anchor="middle">7</text>
<path d="M389.40,336.6 V340.0" stroke="#151515" stroke-width="1.1"/>
<text transform="rotate(0.05 389.40 349.45)" x="389.40" y="349.45" text-anchor="middle">8</text>
<path d="M400.55,336.6 V340.0" stroke="#151515" stroke-width="1.1"/>
<text transform="rotate(0.05 400.55 349.45)" x="400.55" y="349.45" text-anchor="middle">9</text>
<path d="M411.70,336.6 V340.0" stroke="#151515" stroke-width="1.1"/>
<text transform="rotate(0.05 411.70 349.45)" x="411.70" y="349.45" text-anchor="middle">10</text>
<path d="M422.85,336.6 V340.0" stroke="#151515" stroke-width="1.1"/>
<text transform="rotate(0.05 422.85 349.45)" x="422.85" y="349.45" text-anchor="middle">11</text>
<path d="M434.00,336.6 V340.0" stroke="#151515" stroke-width="1.1"/>
<text transform="rotate(0.05 434.00 349.45)" x="434.00" y="349.45" text-anchor="middle">12</text>
<path d="M445.15,336.6 V340.0" stroke="#151515" stroke-width="1.1"/>
<text transform="rotate(0.05 445.15 349.45)" x="445.15" y="349.45" text-anchor="middle">1</text>
<path d="M456.30,336.6 V340.0" stroke="#151515" stroke-width="1.1"/>
<text transform="rotate(0.05 456.30 349.45)" x="456.30" y="349.45" text-anchor="middle">2</text>
<path d="M467.45,336.6 V340.0" stroke="#151515" stroke-width="1.1"/>
<text transform="rotate(0.05 467.45 349.45)" x="467.45" y="349.45" text-anchor="middle">3</text>
<path d="M478.60,336.6 V340.0" stroke="#151515" stroke-width="1.1"/>
<text transform="rotate(0.05 478.60 349.45)" x="478.60" y="349.45" text-anchor="middle">4</text>
<path d="M489.75,336.6 V340.0" stroke="#151515" stroke-width="1.1"/>
<text transform="rotate(0.05 489.75 349.45)" x="489.75" y="349.45" text-anchor="middle">5</text>
<path d="M500.90,336.6 V340.0" stroke="#151515" stroke-width="1.1"/>
<text transform="rotate(0.05 500.90 349.45)" x="500.90" y="349.45" text-anchor="middle">6</text>
<text transform="rotate(0.05 485.35 245.70)" x="485.35" y="245.70" font-size="8.7" letter-spacing="-0.3">(F) RoC</text>
<text transform="rotate(0.05 485.35 259.60)" x="485.35" y="259.60" font-size="8.2">2019: 29 kha</text>
<text transform="rotate(0.05 485.35 268.80)" x="485.35" y="268.80" font-size="8.2">2020: 17 kha</text>
<path d="M541.7,238.1 V336.6" stroke="#1f77b4" stroke-width="1.25" fill="none"/>
<path d="M541.7,336.60 H544.9000000000001" stroke="#1f77b4" stroke-width="1.1"/>
<text transform="rotate(0.05 547.70 340.10)" x="547.70" y="340.10" fill="#1f77b4">0</text>
<path d="M541.7,311.98 H544.9000000000001" stroke="#1f77b4" stroke-width="1.1"/>
<text transform="rotate(0.05 547.70 315.48)" x="547.70" y="315.48" fill="#1f77b4">100</text>
<path d="M541.7,287.35 H544.9000000000001" stroke="#1f77b4" stroke-width="1.1"/>
<text transform="rotate(0.05 547.70 290.85)" x="547.70" y="290.85" fill="#1f77b4">200</text>
<path d="M541.7,262.73 H544.9000000000001" stroke="#1f77b4" stroke-width="1.1"/>
<text transform="rotate(0.05 547.70 266.23)" x="547.70" y="266.23" fill="#1f77b4">300</text>
<path d="M541.7,238.10 H544.9000000000001" stroke="#1f77b4" stroke-width="1.1"/>
<text transform="rotate(0.05 547.70 241.60)" x="547.70" y="241.60" fill="#1f77b4">400</text>
<text transform="translate(573.6,286.95) rotate(-90.05)" text-anchor="middle" fill="#1f77b4">Rainfall (mm)</text>
<text transform="rotate(0.05 358.30 360.50)" x="358.30" y="360.50" text-anchor="middle">2019</text>
<text transform="rotate(0.05 463.70 360.50)" x="463.70" y="360.50" text-anchor="middle">2020</text>
</g>
</svg>
</body></html>
